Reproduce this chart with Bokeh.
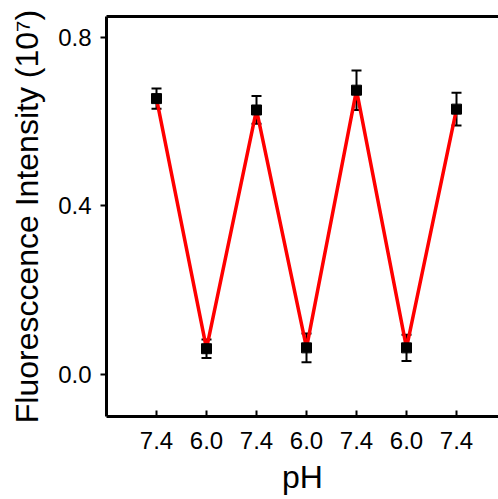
from bokeh.plotting import figure
from bokeh.models import (ColumnDataSource, Range1d, FixedTicker, LinearAxis,
                          Whisker, TeeHead)
from bokeh.embed import file_html
from bokeh.resources import INLINE

# data
ph_labels = ["7.4", "6.0", "7.4", "6.0", "7.4", "6.0", "7.4"]
intensity = [0.655, 0.061, 0.628, 0.063, 0.675, 0.063, 0.630]
errors = [0.024, 0.022, 0.033, 0.034, 0.047, 0.031, 0.039]
y_ticks = [0.0, 0.4, 0.8]

x = list(range(1, len(ph_labels) + 1))
src = ColumnDataSource(dict(
    x=x, y=intensity,
    lower=[v - e for v, e in zip(intensity, errors)],
    upper=[v + e for v, e in zip(intensity, errors)],
))

FONT = "Liberation Sans"

p = figure(width=498, height=499, output_backend="svg", toolbar_location=None,
           x_range=Range1d(0, 7.84), y_range=Range1d(-0.1, 0.85),
           min_border_left=106, min_border_top=16, min_border_right=0,
           min_border_bottom=83)
p.outline_line_color = None
p.grid.visible = False
p.background_fill_color = "white"
p.border_fill_color = "white"

p.line("x", "y", source=src, line_color="#ff0000", line_width=3.5)
p.add_layout(Whisker(source=src, base="x", lower="lower", upper="upper",
                     line_color="black", line_width=2,
                     upper_head=TeeHead(size=10, line_color="black", line_width=2),
                     lower_head=TeeHead(size=10, line_color="black", line_width=2)))
p.scatter("x", "y", source=src, marker="square", size=10,
          fill_color="black", line_color="black")

# x axis
xa = p.xaxis[0]
xa.ticker = FixedTicker(ticks=x)
xa.major_label_overrides = {i: lab for i, lab in zip(x, ph_labels)}
xa.major_tick_in = 6
xa.major_tick_out = 0
xa.minor_tick_line_color = None
xa.axis_line_width = 3
xa.major_tick_line_width = 2
xa.major_label_standoff = 15
xa.major_label_text_font = FONT
xa.major_label_text_font_size = "24px"
xa.major_label_text_color = "black"
xa.axis_label = "pH"
xa.axis_label_text_font = FONT
xa.axis_label_text_font_size = "32px"
xa.axis_label_text_font_style = "normal"
xa.axis_label_text_color = "black"
xa.axis_label_standoff = 7

# y axis
ya = p.yaxis[0]
ya.ticker = FixedTicker(ticks=y_ticks)
ya.major_label_overrides = {t: f"{t:.1f}" for t in y_ticks}
ya.major_tick_in = 0
ya.major_tick_out = 6
ya.minor_tick_line_color = None
ya.axis_line_width = 3
ya.major_tick_line_width = 2
ya.major_label_standoff = 9
ya.major_label_text_font = FONT
ya.major_label_text_font_size = "24px"
ya.major_label_text_color = "black"
ya.axis_label = "Fluoresccence Intensity (10\u2077)"
ya.axis_label_text_font = FONT
ya.axis_label_text_font_size = "32px"
ya.axis_label_text_font_style = "normal"
ya.axis_label_text_color = "black"
ya.axis_label_standoff = 10

# top border line
top = LinearAxis(ticker=FixedTicker(ticks=[]), axis_line_width=3,
                 major_tick_line_color=None, minor_tick_line_color=None,
                 major_label_text_font_size="0px", major_label_standoff=0)
p.add_layout(top, "above")

open("out.html", "w").write(file_html(p, INLINE))
